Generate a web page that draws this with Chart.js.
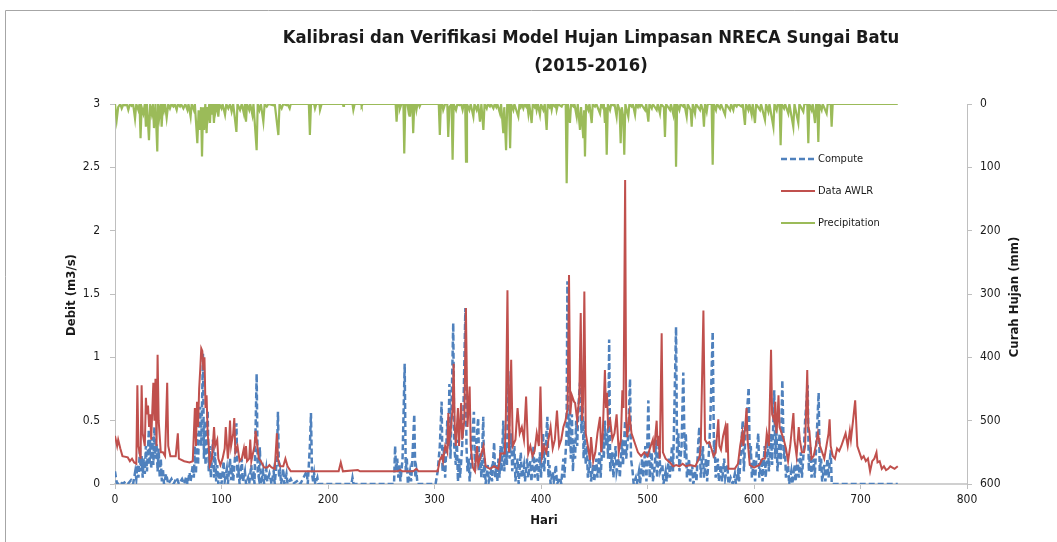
<!DOCTYPE html>
<html><head><meta charset="utf-8">
<script src="https://cdn.jsdelivr.net/npm/chart.js@4.4.1/dist/chart.umd.min.js"></script>
<style>html,body{margin:0;padding:0;background:#fff;overflow:hidden}canvas{display:block}</style>
</head><body>
<canvas id="c" width="1057" height="542"></canvas>
<script>
const chartTitle = ['Kalibrasi dan Verifikasi Model Hujan Limpasan NRECA Sungai Batu', '(2015-2016)'];
const xTitle = 'Hari';
const yTitle = 'Debit (m3/s)';
const y1Title = 'Curah Hujan (mm)';
const seriesNames = ['Compute', 'Data AWLR', 'Precipitation'];
const xTicks = [0,100,200,300,400,500,600,700,800];
const yTicks = [0,0.5,1,1.5,2,2.5,3];
const y1Ticks = [0,100,200,300,400,500,600];

// [day, value]
const computePts = [[0,0.1],[1,0.04],[2,0],[5,0.02],[7,0],[10,0.02],[12,0],[15,0.03],[17,0],[19,0.1],[20,0.04],[21,0.15],[22,0.05],[23.5,0.29],[24,0.1],[25,0.22],[26,0.05],[27,0.2],[28,0.08],[29,0.3],[30,0.1],[31.8,0.43],[32.5,0.15],[33,0.35],[34,0.12],[35,0.37],[36,0.15],[37,0.45],[38,0.2],[39,0.32],[40,0.1],[41,0.28],[42,0.05],[43,0.2],[44,0.02],[45,0.12],[46,0],[48,0.08],[50,0],[53,0.04],[55,0],[58,0.05],[60,0],[63,0.04],[65,0],[67,0.06],[68,0],[70,0.09],[71,0.02],[73,0.15],[74,0.05],[75,0.3],[76,0.08],[77,0.4],[78,0.15],[79,0.5],[80,0.61],[81,0.3],[82.6,1.03],[83.5,0.2],[84,0.5],[85,0.15],[86,0.4],[87,0.58],[88,0.1],[89,0.3],[90,0.05],[91,0.2],[92,0.35],[93,0.05],[94,0.25],[95,0.02],[96,0.15],[97,0],[99,0.1],[100,0],[102,0.18],[103,0.02],[105,0.12],[106,0],[108,0.2],[109,0.03],[110,0.15],[111,0.02],[113,0.25],[114,0.48],[115,0.05],[116,0.1],[117,0],[119,0.2],[120,0.02],[122,0.1],[123,0],[125,0.05],[126,0],[128,0.15],[129,0.02],[130,0.1],[131,0],[133,0.87],[134,0.1],[135,0.05],[136,0.29],[137,0],[139,0.1],[140,0],[142,0.12],[143,0.02],[145,0.08],[147,0],[149,0.1],[150,0],[152,0.2],[153,0.57],[154,0.05],[155,0.1],[156,0],[158,0.12],[159,0],[161,0.08],[162,0],[165,0.04],[167,0],[172,0.03],[174,0],[180,0.1],[181,0],[183,0.3],[184,0.56],[185,0.08],[186,0.02],[187,0.08],[188,0],[190,0.05],[191,0],[222,0],[223,0.05],[224,0],[262,0],[263,0.3],[264,0.1],[265,0.2],[266,0.05],[267,0.15],[268,0.02],[270,0.2],[272,0.95],[273,0.1],[274,0.2],[275,0],[277,0.1],[278,0.02],[279,0.15],[281,0.55],[282,0.05],[283,0.1],[284,0],[301,0],[303,0.1],[305,0.3],[306.7,0.65],[307.5,0.1],[309,0.3],[310,0.05],[312,0.5],[313,0.3],[314,0.79],[315,0.2],[316,0.6],[317.6,1.27],[318.5,0.3],[320,0.15],[321,0.35],[322,0.02],[323,0.2],[324,0.05],[326,0.3],[327,0.5],[329,1.39],[330,0.3],[331,0.1],[332,0.2],[333,0.02],[334,0.15],[335,0.3],[337,0.57],[338,0.1],[339,0.3],[341,0.52],[342,0.1],[343,0.25],[344,0.05],[345.8,0.53],[346.5,0.05],[347,0.2],[348,0],[350,0.15],[351,0.02],[353,0.1],[354,0.02],[356,0.33],[357,0.05],[358,0.15],[359,0.02],[360,0.2],[361,0.05],[362,0.3],[363,0.1],[364.6,0.5],[365.5,0.1],[367,0.3],[368,0.15],[369.3,0.89],[370.5,0.2],[372,0.4],[373,0.1],[375,0.3],[376,0.02],[378,0.2],[379,0],[381,0.25],[382,0.05],[384,0.15],[385,0.02],[387,0.2],[388,0.05],[390,0.18],[391,0.02],[393,0.3],[394,0.05],[396,0.2],[397,0.02],[399,0.25],[400,0.05],[402,0.4],[403,0.1],[406,0.53],[407,0.05],[408,0.15],[409,0],[411,0.1],[412,0.02],[414,0.15],[415,0],[418,0.05],[419,0],[421,0.2],[422,0.05],[424,0.4],[424.8,1.6],[426,0.3],[427,0.6],[428,0.2],[429,0.55],[430,0.1],[431,0.35],[432,0.2],[433,0.5],[434,0.3],[435,0.6],[436.6,0.8],[438,0.4],[439,0.75],[440,0.2],[441,0.5],[442,0.15],[443,0.3],[444,0.05],[446,0.2],[447,0.02],[449,0.15],[450,0.02],[452,0.2],[453,0.05],[455,0.25],[456,0.05],[458,0.4],[459,0.2],[460,0.5],[461,0.3],[462,0.4],[463,0.2],[464,1.14],[465,0.1],[467,0.25],[468,0.05],[470,0.3],[471,0.1],[473,0.2],[474,0.05],[476,0.35],[477,0.15],[479,0.5],[480,0.2],[482,0.4],[483.6,0.83],[484.5,0.2],[486,0.1],[487,0],[489,0.05],[490,0],[492,0.1],[493,0],[495,0.2],[496,0.05],[498,0.3],[499,0.02],[500.8,0.66],[502,0.05],[504,0.25],[505,0.02],[507,0.15],[508,0.35],[509,0.05],[511,0.3],[512,0.1],[514,0.15],[515,0],[517,0.1],[518,0.02],[520,0.2],[521,0.05],[523,0.3],[524,0.1],[525,0.5],[526.8,1.24],[527.8,0.2],[529,0.4],[530,0.1],[532,0.3],[533.6,0.88],[535,0.2],[536,0.4],[537,0.05],[539,0.2],[540,0.02],[542,0.15],[543,0],[545,0.1],[546,0.02],[547.5,0.3],[548.6,0.45],[550,0.05],[552,0.3],[553,0.05],[555,0.2],[556,0.02],[558,0.3],[559,0.5],[561.2,1.2],[562.5,0.2],[563,0.35],[564,0.05],[566,0.2],[567,0.02],[569,0.15],[570,0.02],[572,0.2],[573,0.05],[575,0.15],[576,0],[578,0.05],[580,0],[582,0.08],[583,0],[585,0.1],[586,0.02],[588,0.3],[589.4,0.5],[590.5,0.1],[592,0.4],[595,0.76],[596,0.2],[597,0.3],[598,0.05],[600,0.2],[601,0.02],[602.5,0.25],[604,0.4],[605,0.05],[607,0.2],[608,0.02],[610,0.3],[611,0.05],[613,0.35],[614,0.1],[616,0.4],[617,0.15],[619,0.74],[620,0.2],[621,0.45],[622,0.1],[624,0.4],[625,0.15],[626.6,0.82],[628,0.2],[629,0.3],[630,0.05],[632,0.15],[633,0],[635,0.1],[636,0],[638,0.15],[639,0.02],[641,0.2],[642,0.05],[644,0.25],[645,0.05],[647,0.3],[648,0.5],[650.4,0.78],[651.5,0.1],[653,0.3],[654,0.05],[656,0.2],[657,0.05],[659,0.4],[660.7,0.72],[661.7,0.1],[663,0.2],[664,0.02],[666,0.15],[667,0.02],[669,0.2],[670,0.05],[672,0.27],[673,0],[735,0]];

const awlrPts = [[0,0.38],[2,0.3],[3,0.35],[5,0.28],[7,0.22],[12,0.21],[14,0.18],[16,0.2],[18,0.17],[20,0.16],[21,0.78],[22,0.3],[24,0.2],[25,0.78],[26,0.4],[28,0.3],[29,0.68],[30,0.55],[31,0.62],[32,0.45],[33,0.55],[34,0.35],[36,0.8],[37,0.5],[38,0.83],[39,0.3],[40,1.02],[41,0.5],[43,0.25],[45,0.25],[47,0.22],[49,0.8],[50,0.3],[52,0.22],[57,0.22],[59,0.4],[60,0.2],[65,0.18],[70,0.17],[73,0.18],[75,0.6],[76,0.3],[77,0.65],[78,0.45],[79,0.75],[80,0.9],[81,1.07],[82,1.05],[83,0.9],[84,1.0],[85,0.6],[86,0.7],[87,0.4],[88,0.3],[89,0.15],[91,0.2],[93,0.45],[94,0.3],[96,0.35],[97,0.2],[99,0.15],[101,0.2],[103,0.28],[104,0.45],[106,0.2],[107,0.3],[108,0.5],[109,0.3],[111,0.4],[112,0.52],[113,0.25],[115,0.3],[117,0.18],[119,0.2],[121,0.28],[122,0.2],[123,0.3],[124,0.18],[126,0.2],[127,0.35],[128,0.18],[131,0.3],[132,0.42],[133,0.35],[135,0.2],[137,0.18],[140,0.13],[143,0.13],[145,0.15],[147,0.13],[150,0.12],[152,0.4],[153,0.2],[155,0.14],[158,0.14],[160,0.2],[162,0.14],[165,0.1],[210,0.1],[212,0.17],[214,0.1],[228,0.11],[230,0.1],[265,0.1],[268,0.11],[270,0.1],[280,0.1],[283,0.12],[285,0.1],[303,0.1],[305,0.19],[307,0.22],[308,0.18],[310,0.3],[312,0.25],[313,0.56],[314,0.35],[315,0.4],[317,0.6],[318,0.95],[319,0.45],[320,0.3],[322,0.6],[323,0.3],[325,0.64],[326,0.35],[328,0.5],[329.5,1.39],[331,0.45],[333,0.77],[334,0.3],[336,0.13],[338,0.1],[340,0.3],[341,0.15],[344,0.24],[346,0.3],[348,0.14],[352,0.12],[356,0.14],[360,0.12],[362,0.24],[366,0.24],[367,0.52],[368.5,1.53],[370,0.25],[372,0.98],[373.5,0.3],[376,0.35],[378,0.6],[380,0.4],[382,0.45],[384,0.35],[386,0.69],[388,0.24],[390,0.3],[392,0.22],[394,0.26],[396,0.4],[398,0.3],[399.5,0.77],[401,0.22],[403,0.3],[405,0.25],[407,0.35],[409,0.45],[411,0.28],[413,0.35],[415,0.58],[417,0.3],[419,0.35],[421,0.45],[423,0.5],[425,0.6],[426.3,1.65],[427.5,0.55],[429,0.7],[431,0.65],[432,0.64],[434,0.5],[436,0.7],[437.3,1.35],[438.5,0.5],[439.5,0.65],[440.7,1.52],[442,0.4],[444,0.3],[446,0.19],[447,0.37],[449,0.18],[451,0.25],[453,0.4],[455.4,0.53],[456.5,0.25],[458,0.4],[460,0.9],[461,0.6],[462,0.72],[463,0.45],[465,0.5],[467,0.35],[469,0.4],[471,0.55],[473,0.25],[475,0.35],[476.4,0.74],[477.5,0.6],[479,2.4],[480,0.5],[481,0.37],[483,0.55],[485,0.4],[487,0.35],[489,0.3],[491,0.25],[494,0.22],[497,0.25],[500,0.22],[503,0.3],[505,0.35],[506,0.25],[508.6,0.5],[509.5,0.3],[510.5,0.38],[511.5,0.2],[513.3,1.19],[514.5,0.25],[517,0.2],[521,0.17],[524,0.14],[527,0.15],[530,0.14],[533,0.16],[536,0.14],[540,0.15],[545,0.14],[549,0.22],[550,0.3],[552.5,1.37],[554,0.35],[556,0.32],[558,0.33],[560,0.28],[562,0.22],[564,0.25],[566.5,0.51],[567.5,0.3],[569,0.27],[571,0.38],[573,0.45],[574,0.25],[575,0.48],[576,0.12],[578,0.12],[582,0.12],[585,0.16],[587,0.3],[589,0.4],[590,0.3],[592,0.48],[593,0.6],[594,0.35],[596,0.15],[600,0.13],[605,0.15],[608,0.2],[610,0.2],[612,0.4],[614,0.3],[616,1.06],[617,0.55],[619,0.5],[620,0.65],[621,0.4],[622,0.5],[623,0.7],[624,0.45],[626,0.4],[628,0.35],[630,0.28],[632,0.18],[634,0.3],[637,0.56],[638,0.35],[640,0.22],[642,0.45],[643,0.35],[645,0.25],[647,0.25],[648,0.3],[650,0.9],[651,0.45],[652,0.42],[654,0.2],[656,0.22],[658,0.3],[660,0.4],[662,0.3],[664,0.25],[666,0.2],[668,0.3],[670,0.4],[671,0.51],[672,0.3],[674,0.22],[676,0.2],[678,0.28],[680,0.26],[682,0.3],[684,0.35],[686,0.4],[687,0.35],[688,0.3],[690,0.42],[691,0.35],[693,0.5],[695,0.66],[697,0.3],[699,0.25],[701,0.2],[703,0.22],[705,0.18],[707,0.2],[709,0.1],[711,0.18],[713,0.2],[715,0.25],[716,0.17],[718,0.18],[720,0.12],[722,0.14],[724,0.11],[726,0.12],[728,0.14],[730,0.13],[732,0.12],[735,0.14]];

const precipPts = [[0,0],[1.6,25],[3,5],[5,0],[6.3,7],[8,0],[9.4,2],[11,0],[12.5,9.5],[14,0],[15.6,3],[17,0],[18.8,23],[20,0],[21.9,9.5],[23,0],[24,54],[25,5],[26.6,15],[28,0],[29,36],[30,0],[31.9,57],[33,3],[34.4,15],[35.5,0],[36.6,38],[38,0],[39.7,75],[40.5,0],[41.6,20],[43,0],[43.8,36],[45,0],[46,9.5],[47,0],[48.5,22],[50,0],[51.6,7],[53,0],[54.8,4],[56,0],[57.9,9.5],[59,0],[61,4],[62,0],[64.2,7],[66,0],[68,9.5],[69,0],[71,20],[72,0],[74,9.5],[75,0],[77.3,62],[78.5,10],[79.8,41],[80.8,5],[81.7,83],[82.7,5],[83.6,41],[84.8,0],[86,46],[87,5],[87.6,15],[88.5,0],[89.2,30],[90,0],[91,17],[92,0],[92.9,30],[94,0],[94.8,9.5],[96,0],[97,20],[98,0],[100,7],[101,0],[103.3,17],[104.5,0],[106.4,7],[108,0],[109.5,12],[111,0],[114,44],[115,0],[117.4,9.5],[119,0],[121,15],[122,0],[123,28],[124,0],[126,9.5],[127,0],[129,17],[130,0],[133,73],[134,0],[135.6,9.5],[137,0],[139.3,28],[140.5,0],[142.5,4],[144,0],[148.7,2],[150,0],[153.4,49],[154.5,0],[156.5,7],[158,0],[161,2],[162,0],[164,7],[165,0],[182,0],[183,49],[184,0],[187,0],[187.8,7],[189,0],[192,0],[192.5,9.5],[194,0],[214,0],[214.4,3],[215,0],[223,0],[223.8,9.5],[225,0],[231,0],[231.6,3],[232.5,0],[263.5,0],[264.4,28],[265.5,0],[267,0],[267.6,7],[269,0],[270.8,0],[271.6,78],[272.6,0],[274.5,0],[275.4,9.5],[276.2,0],[277,20],[278,0],[279.2,0],[280,46],[281,0],[282.2,0],[283,9.5],[284,0],[285.3,0],[286,4],[287,0],[304,0],[305,49],[306,0],[307.3,0],[308.2,9.5],[310,0],[312,0],[312.9,52],[314,5],[316,0],[317,88],[318,0],[320.2,9.5],[321.5,0],[323.3,2],[325,0],[326.4,9.5],[327.5,0],[328.8,0],[329.6,91],[330.5,0],[332.7,9.5],[334,0],[336.5,20],[337.5,0],[339.6,9.5],[341,0],[342.7,28],[344,0],[345.9,41],[347,0],[349,7],[350,0],[352,4],[353,0],[355.3,7],[356.5,0],[358,5],[359,0],[361.5,15],[362.5,0],[364.6,46],[365.5,5],[367.2,73],[368.3,0],[370,0],[371,70],[372,0],[374,9.5],[375,0],[378.7,20],[379.8,0],[381,5],[382,0],[383.4,7],[384.5,0],[386,4],[387,0],[388.1,15],[389,0],[391.2,30],[392.3,0],[394,5],[395,0],[395.9,9.5],[397,0],[399,17],[400,0],[402.2,9.5],[403.5,0],[405.3,41],[406.3,0],[408,5],[409,0],[410,9.5],[411,0],[413,4],[414,0],[414.7,9.5],[416,0],[419.4,4],[420.5,0],[423.2,0],[424.1,125],[425.2,0],[427.2,30],[428.2,0],[430.4,4],[431.4,0],[433.5,20],[434.5,0],[436.6,41],[437.6,5],[439.7,54],[440.5,10],[441.3,83],[442.3,0],[444.4,9.5],[445.5,0],[447.6,30],[448.6,0],[450.7,4],[452,0],[455.4,15],[456.5,0],[458,5],[459,0],[460,30],[460.8,5],[461.7,80],[462.8,0],[464.8,9.5],[466,0],[467.9,2],[469,0],[471,20],[472,0],[473.8,10],[474.8,62],[475.8,5],[477.2,20],[478.2,80],[479.2,0],[482,20],[483,0],[485.1,4],[486.2,0],[488.3,17],[489.3,0],[491,5],[492,0],[493,4],[494,0],[497.7,9.5],[498.8,0],[500.8,28],[501.8,0],[504,7],[505,0],[508.6,9.5],[509.6,0],[511.7,15],[512.7,0],[515.4,5],[516.4,52],[517.4,0],[521.1,9.5],[522,0],[524.3,17],[525.3,0],[526,0],[526.8,99],[527.8,0],[529.9,9.5],[531,0],[533.6,4],[534.6,0],[536.8,20],[537.8,0],[540.5,10],[541.5,36],[542.5,0],[544.6,15],[545.6,0],[549.3,9.5],[550.3,0],[552,10],[553,36],[554,0],[555.6,12],[556.6,0],[560.2,0],[561.2,96],[562.2,0],[564.3,9.5],[565.3,0],[568,7],[569,0],[572.8,17],[573.8,0],[577.5,9.5],[578.5,0],[580.6,9.5],[581.6,0],[583.7,4],[584.7,0],[588.4,4],[589.4,0],[591.5,33],[592.5,0],[594.7,9.5],[595.7,0],[597.8,17],[598.8,0],[600.9,30],[602,0],[605.6,9.5],[606.6,0],[610.3,25],[611.3,0],[613.5,12],[614.5,0],[618.2,36],[619.2,0],[621.3,9.5],[622.3,0],[624,0],[625,65],[626,0],[628.2,7],[629.2,0],[632.2,15],[633.2,0],[636.9,36],[638,0],[641.6,30],[642.6,0],[646.3,12],[647.3,0],[650,0],[651,62],[652,0],[654.1,9.5],[655.1,0],[657.3,30],[658.3,0],[659.4,0],[660.4,60],[661.4,0],[663.5,9.5],[664.5,0],[668.2,15],[669.2,0],[672,0],[672.9,36],[673.9,0],[735,0]];

const COLORS = { compute: '#4f81bd', awlr: '#c0504d', precip: '#9bbb59', axis: '#bfbfbf', text: '#1a1a1a' };
const FONT = '"Liberation Sans Narrow", "DejaVu Sans Condensed", "Open Sans", sans-serif';
const toXY = pts => pts.map(p => ({ x: p[0], y: p[1] }));

const decor = {
  id: 'decor',
  beforeDraw(chart) {
    const ctx = chart.ctx;
    ctx.save();
    ctx.strokeStyle = '#a6a6a6';
    ctx.lineWidth = 1;
    ctx.beginPath();
    ctx.moveTo(5.5, 542); ctx.lineTo(5.5, 10.5); ctx.lineTo(1057, 10.5);
    ctx.stroke();
    ctx.restore();
  },
  afterDraw(chart) {
    const ctx = chart.ctx;
    ctx.save();
    ctx.fillStyle = COLORS.text;
    ctx.textAlign = 'center';
    ctx.textBaseline = 'middle';
    ctx.font = 'bold 20px ' + FONT;
    const w = ctx.measureText(chartTitle[0]).width;
    const fs = 20 * 617 / w;
    ctx.font = 'bold ' + fs.toFixed(2) + 'px ' + FONT;
    ctx.fillText(chartTitle[0], 591, 38);
    ctx.fillText(chartTitle[1], 591, 66);
    ctx.font = 'bold 13px ' + FONT;
    ctx.fillText(xTitle, 544, 521);
    ctx.save(); ctx.translate(72, 295); ctx.rotate(-Math.PI/2); ctx.fillText(yTitle, 0, 0); ctx.restore();
    ctx.save(); ctx.translate(1015, 297); ctx.rotate(-Math.PI/2); ctx.fillText(y1Title, 0, 0); ctx.restore();
    const items = [
      { name: seriesNames[0], color: COLORS.compute, dash: [6,3], w: 2.5, y: 159 },
      { name: seriesNames[1], color: COLORS.awlr, dash: [], w: 2, y: 191 },
      { name: seriesNames[2], color: COLORS.precip, dash: [], w: 2, y: 223 }
    ];
    ctx.font = '11px ' + FONT;
    ctx.textAlign = 'left';
    items.forEach(it => {
      ctx.save();
      ctx.strokeStyle = it.color; ctx.lineWidth = it.w; ctx.setLineDash(it.dash);
      ctx.beginPath(); ctx.moveTo(781, it.y); ctx.lineTo(815, it.y); ctx.stroke();
      ctx.restore();
      ctx.fillText(it.name, 818, it.y);
    });
    ctx.restore();
  }
};

const tickFont = { family: FONT, size: 12 };
const plainLabel = v => String(v);
new Chart(document.getElementById('c'), {
  type: 'line',
  data: {
    datasets: [
      { label: seriesNames[1], data: toXY(awlrPts), borderColor: COLORS.awlr, borderWidth: 2, pointRadius: 0, yAxisID: 'y', order: 1 },
      { label: seriesNames[0], data: toXY(computePts), borderColor: COLORS.compute, borderWidth: 2.5, borderDash: [6,3], pointRadius: 0, yAxisID: 'y', order: 2 },
      { label: seriesNames[2], data: toXY(precipPts), borderColor: COLORS.precip, borderWidth: 2.2, pointRadius: 0, yAxisID: 'y1', order: 3 }
    ]
  },
  options: {
    responsive: false, animation: false, devicePixelRatio: 1,
    layout: { padding: { top: 104, left: 0, right: 0, bottom: 0 } },
    plugins: { legend: { display: false }, title: { display: false }, tooltip: { enabled: false } },
    elements: { line: { tension: 0 } },
    scales: {
      x: {
        type: 'linear', min: 0, max: 800,
        afterBuildTicks: s => { s.ticks = xTicks.map(v => ({ value: v })); },
        afterFit: s => { s.height = 58; },
        ticks: { font: tickFont, color: COLORS.text, padding: 4, maxRotation: 0, callback: plainLabel },
        grid: { drawOnChartArea: false, drawTicks: true, tickLength: 5, color: COLORS.axis },
        border: { color: '#d0d0d0', width: 2 }
      },
      y: {
        position: 'left', min: 0, max: 3,
        afterBuildTicks: s => { s.ticks = yTicks.map(v => ({ value: v })); },
        afterFit: s => { s.width = 115; },
        ticks: { font: tickFont, color: COLORS.text, padding: 10, callback: plainLabel },
        grid: { drawOnChartArea: false, drawTicks: true, tickLength: 5, color: COLORS.axis },
        border: { color: COLORS.axis, width: 1 }
      },
      y1: {
        position: 'right', min: 0, max: 600, reverse: true,
        afterBuildTicks: s => { s.ticks = y1Ticks.map(v => ({ value: v })); },
        afterFit: s => { s.width = 90; },
        ticks: { font: tickFont, color: COLORS.text, padding: 8, callback: plainLabel },
        grid: { drawOnChartArea: false, drawTicks: true, tickLength: 5, color: COLORS.axis },
        border: { color: COLORS.axis, width: 1 }
      }
    }
  },
  plugins: [decor]
});
</script>
</body></html>
